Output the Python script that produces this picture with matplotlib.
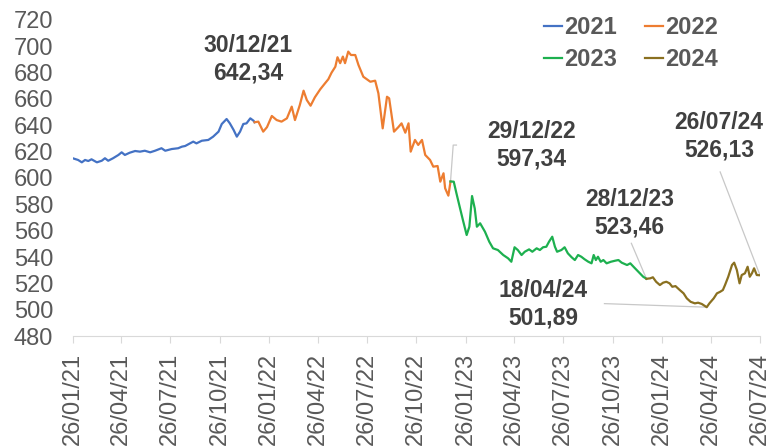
import matplotlib
matplotlib.use("Agg")
import matplotlib.pyplot as plt
import matplotlib.dates as mdates
import pandas as pd

plt.rcParams['font.family'] = ['Liberation Sans', 'DejaVu Sans']

# values
dates_2021 = ['2021-01-26', '2021-02-05', '2021-02-12', '2021-02-18', '2021-02-24', '2021-03-02',
              '2021-03-12', '2021-03-21', '2021-03-27', '2021-04-02', '2021-04-11', '2021-04-21',
              '2021-04-27', '2021-05-03', '2021-05-12', '2021-05-22', '2021-05-31', '2021-06-09',
              '2021-06-19', '2021-06-28', '2021-07-10', '2021-07-17', '2021-07-29', '2021-08-10',
              '2021-08-17', '2021-08-23', '2021-09-01', '2021-09-07', '2021-09-13', '2021-09-23',
              '2021-10-05', '2021-10-14', '2021-10-24', '2021-10-30', '2021-11-08', '2021-11-14',
              '2021-11-21', '2021-11-27', '2021-12-03', '2021-12-09', '2021-12-15', '2021-12-22',
              '2021-12-28', '2021-12-30']
vals_2021 = [615.0, 613.7, 611.9, 613.7, 612.9, 614.2,
             611.9, 613.1, 615.0, 613.1, 615.0, 617.5,
             619.5, 617.5, 619.2, 620.5, 620.0, 620.7,
             619.5, 620.7, 622.6, 620.7, 622.0, 622.6,
             623.8, 624.3, 626.3, 627.6, 626.3, 628.3,
             628.9, 631.4, 635.2, 641.0, 644.8, 641.5,
             636.5, 631.4, 635.2, 641.0, 641.5, 645.3,
             643.5, 642.34]

dates_2022 = ['2021-12-30', '2022-01-06', '2022-01-15', '2022-01-22', '2022-01-31', '2022-02-09',
              '2022-02-18', '2022-02-28', '2022-03-09', '2022-03-15', '2022-03-24', '2022-03-31',
              '2022-04-06', '2022-04-13', '2022-04-21', '2022-05-01', '2022-05-10', '2022-05-16',
              '2022-05-22', '2022-05-29', '2022-06-02', '2022-06-07', '2022-06-12', '2022-06-16',
              '2022-06-22', '2022-06-27', '2022-07-05', '2022-07-11', '2022-07-20', '2022-08-02',
              '2022-08-11', '2022-08-17', '2022-08-25', '2022-09-02', '2022-09-06', '2022-09-15',
              '2022-09-23', '2022-09-29', '2022-10-06', '2022-10-12', '2022-10-16', '2022-10-24',
              '2022-10-30', '2022-11-06', '2022-11-12', '2022-11-21', '2022-11-27', '2022-12-05',
              '2022-12-10', '2022-12-16', '2022-12-19', '2022-12-25', '2022-12-29']
vals_2022 = [642.34, 642.8, 635.2, 638.6, 647.1, 644.0,
             642.8, 645.3, 654.2, 644.0, 655.4, 666.3,
             659.2, 654.9, 661.3, 667.4, 672.0, 675.0,
             680.0, 684.5, 691.7, 687.2, 692.2, 687.2,
             696.0, 693.4, 693.4, 685.8, 676.9, 673.1,
             673.9, 664.3, 637.7, 661.7, 660.5, 635.2,
             638.6, 641.5, 634.4, 641.5, 620.0, 628.9,
             625.1, 628.9, 617.5, 613.7, 608.6, 609.1,
             597.2, 603.6, 592.2, 586.6, 597.34]

dates_2023 = ['2022-12-29', '2023-01-04', '2023-01-09', '2023-01-15', '2023-01-21', '2023-01-28',
              '2023-02-02', '2023-02-07', '2023-02-12', '2023-02-16', '2023-02-22', '2023-03-03',
              '2023-03-11', '2023-03-18', '2023-03-27', '2023-04-06', '2023-04-15', '2023-04-21',
              '2023-04-27', '2023-05-03', '2023-05-10', '2023-05-16', '2023-05-24', '2023-05-30',
              '2023-06-07', '2023-06-13', '2023-06-19', '2023-06-25', '2023-06-30', '2023-07-06',
              '2023-07-11', '2023-07-15', '2023-07-23', '2023-07-29', '2023-08-04', '2023-08-11',
              '2023-08-17', '2023-08-23', '2023-08-29', '2023-09-04', '2023-09-11', '2023-09-17',
              '2023-09-21', '2023-09-25', '2023-09-29', '2023-10-04', '2023-10-09', '2023-10-15',
              '2023-10-23', '2023-10-31', '2023-11-06', '2023-11-12', '2023-11-22', '2023-11-28',
              '2023-12-04', '2023-12-13', '2023-12-22', '2023-12-28']
vals_2023 = [597.34, 597.2, 588.4, 578.2, 568.1, 556.7,
             563.0, 586.3, 576.9, 563.0, 565.6, 559.2,
             551.6, 546.6, 545.3, 541.5, 539.0, 536.4,
             547.4, 545.3, 541.5, 544.0, 545.8, 544.0,
             546.6, 545.3, 547.4, 547.8, 551.6, 555.4,
             547.8, 544.0, 545.3, 547.4, 542.8, 539.8,
             537.7, 541.5, 540.2, 538.3, 536.4, 535.2,
             541.5, 537.7, 540.2, 536.4, 537.7, 535.2,
             536.4, 537.2, 537.7, 535.7, 533.9, 535.2,
             532.6, 528.8, 525.0, 523.46]

dates_2024 = ['2023-12-28', '2024-01-04', '2024-01-09', '2024-01-15', '2024-01-22', '2024-01-28',
              '2024-02-03', '2024-02-09', '2024-02-14', '2024-02-20', '2024-02-28', '2024-03-06',
              '2024-03-12', '2024-03-19', '2024-03-27', '2024-04-02', '2024-04-09', '2024-04-18',
              '2024-04-23', '2024-05-01', '2024-05-07', '2024-05-13', '2024-05-18', '2024-05-22',
              '2024-05-28', '2024-06-04', '2024-06-08', '2024-06-13', '2024-06-18', '2024-06-22',
              '2024-06-28', '2024-07-03', '2024-07-07', '2024-07-11', '2024-07-15', '2024-07-20',
              '2024-07-26']
vals_2024 = [523.46, 523.8, 524.6, 521.2, 518.7, 520.5,
             521.2, 520.0, 517.4, 517.9, 514.9, 512.4,
             508.6, 506.0, 504.8, 505.3, 504.3, 501.89,
             504.8, 508.6, 512.4, 513.6, 514.9, 518.7,
             525.0, 533.9, 535.7, 530.1, 520.0, 526.3,
             527.6, 532.6, 525.0, 527.6, 531.4, 526.3,
             526.13]

series_names = ['2021', '2022', '2023', '2024']
series_dates = [dates_2021, dates_2022, dates_2023, dates_2024]
series_vals = [vals_2021, vals_2022, vals_2023, vals_2024]
colors = ['#4472C4', '#ED7D31', '#1DB04F', '#8A7020']

tick_dates = ['2021-01-26', '2021-04-26', '2021-07-26', '2021-10-26',
              '2022-01-26', '2022-04-26', '2022-07-26', '2022-10-26',
              '2023-01-26', '2023-04-26', '2023-07-26', '2023-10-26',
              '2024-01-26', '2024-04-26', '2024-07-26']

# label text, text centre (date, value), leader line points
labels = [
    ('30/12/21\n642,34', '2021-12-18', 690.5, []),
    ('29/12/22\n597,34', '2023-05-28', 624.6,
     [('2022-12-29', 597.34), ('2023-01-03', 625.0), ('2023-01-09', 625.0)]),
    ('28/12/23\n523,46', '2023-11-27', 573.2,
     [('2023-12-28', 523.46), ('2023-11-30', 550.4)]),
    ('18/04/24\n501,89', '2023-06-19', 504.0,
     [('2024-04-18', 501.89), ('2023-10-11', 504.6)]),
    ('26/07/24\n526,13', '2024-05-11', 631.9,
     [('2024-07-26', 526.13), ('2024-05-13', 604.6)]),
]

fig = plt.figure(figsize=(7.69, 4.47), dpi=100)
ax = fig.add_axes([0.0945, 0.2483, 0.8938, 0.707])

lines = []
for name, d, v, c in zip(series_names, series_dates, series_vals, colors):
    ln, = ax.plot(pd.to_datetime(d), v, color=c, lw=1.6, label=name, zorder=3)
    lines.append(ln)

for txt, d, v, pts in labels:
    ax.text(pd.Timestamp(d), v, txt, ha='center', va='center', fontsize=16.5,
            fontweight='bold', color='#404040', linespacing=1.25, zorder=4)
    if pts:
        ax.plot(pd.to_datetime([p[0] for p in pts]), [p[1] for p in pts],
                color='#c8c8c8', lw=0.9, zorder=2)

ax.set_xlim(pd.Timestamp(tick_dates[0]), pd.Timestamp(tick_dates[-1]))
ax.set_ylim(480, 720)
ax.set_yticks(range(480, 721, 20))
ax.set_xticks(pd.to_datetime(tick_dates))
ax.xaxis.set_major_formatter(mdates.DateFormatter('%d/%m/%y'))

for s in ['top', 'right', 'left']:
    ax.spines[s].set_visible(False)
ax.spines['bottom'].set_color('#d9d9d9')
ax.tick_params(axis='y', length=0, pad=14, labelsize=17, labelcolor='#595959')
ax.tick_params(axis='x', length=5, color='#d9d9d9', pad=7, labelsize=17,
               labelcolor='#595959', labelrotation=90)

# row order 2021, 2022 / 2023, 2024
order = [0, 2, 1, 3]
leg = ax.legend([lines[i] for i in order], [series_names[i] for i in order],
                ncol=2, frameon=False, loc='upper left',
                bbox_to_anchor=(544 / 769, 1 - 16 / 447), bbox_transform=fig.transFigure,
                borderpad=0, borderaxespad=0, handlelength=0.75, handletextpad=0.1,
                columnspacing=1.2, labelspacing=0.38,
                prop={'size': 17, 'weight': 'bold'})
for t in leg.get_texts():
    t.set_color('#595959')

fig.savefig('out.png', dpi=100)
